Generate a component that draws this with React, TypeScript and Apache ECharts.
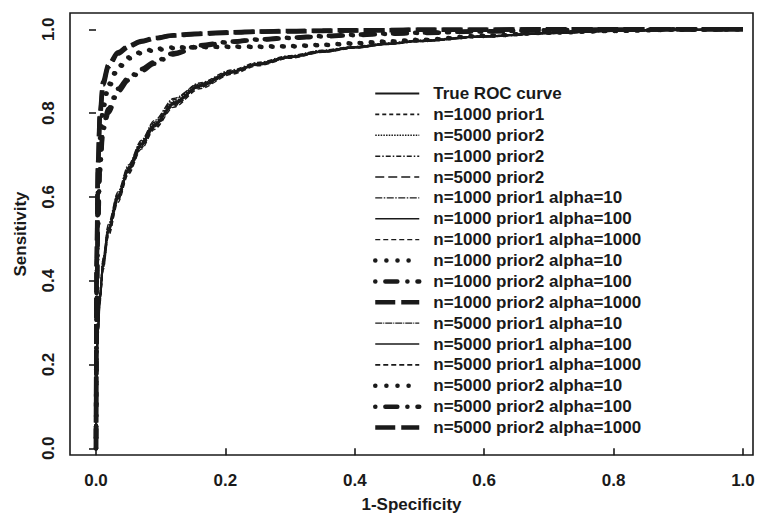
import React, { useEffect, useRef } from "react";
import * as echarts from "echarts";

// False positive rate grid (1-Specificity)
const FPR = [0, 0.001, 0.003, 0.006, 0.011, 0.019, 0.034, 0.05, 0.07, 0.09, 0.12, 0.16, 0.21, 0.25, 0.3, 0.35, 0.4, 0.45, 0.5, 0.6, 0.7, 0.8, 0.9, 1.0];

// Sensitivity values per curve
const TRUE_ROC = [0, 0.20, 0.28, 0.36, 0.44, 0.52, 0.600, 0.665, 0.725, 0.770, 0.822, 0.865, 0.898, 0.917, 0.934, 0.947, 0.957, 0.965, 0.972, 0.983, 0.991, 0.996, 0.999, 1];
const N1000_P1 = [0, 0.19, 0.27, 0.35, 0.43, 0.51, 0.592, 0.658, 0.718, 0.764, 0.817, 0.861, 0.895, 0.915, 0.932, 0.946, 0.956, 0.964, 0.971, 0.982, 0.990, 0.996, 0.999, 1];
const N5000_P2_A = [0, 0.21, 0.29, 0.37, 0.45, 0.53, 0.608, 0.672, 0.732, 0.776, 0.828, 0.869, 0.901, 0.919, 0.936, 0.949, 0.958, 0.966, 0.973, 0.984, 0.991, 0.996, 0.999, 1];
const N1000_P2 = [0, 0.20, 0.285, 0.365, 0.445, 0.525, 0.605, 0.670, 0.730, 0.778, 0.832, 0.872, 0.903, 0.921, 0.937, 0.950, 0.959, 0.967, 0.974, 0.984, 0.992, 0.996, 0.999, 1];
const N5000_P2_B = [0, 0.195, 0.275, 0.355, 0.435, 0.515, 0.595, 0.662, 0.722, 0.768, 0.820, 0.863, 0.896, 0.916, 0.933, 0.946, 0.956, 0.965, 0.972, 0.983, 0.991, 0.996, 0.999, 1];
const N1000_P1_A10 = [0, 0.21, 0.29, 0.37, 0.455, 0.535, 0.612, 0.676, 0.735, 0.782, 0.835, 0.870, 0.900, 0.918, 0.935, 0.948, 0.958, 0.966, 0.973, 0.983, 0.991, 0.996, 0.999, 1];
const N1000_P1_A100 = [0, 0.19, 0.275, 0.355, 0.435, 0.515, 0.596, 0.661, 0.721, 0.767, 0.826, 0.864, 0.897, 0.916, 0.933, 0.947, 0.957, 0.965, 0.972, 0.983, 0.991, 0.996, 0.999, 1];
const N1000_P1_A1000 = [0, 0.185, 0.265, 0.345, 0.425, 0.505, 0.587, 0.654, 0.714, 0.761, 0.814, 0.858, 0.893, 0.913, 0.931, 0.945, 0.955, 0.964, 0.971, 0.982, 0.990, 0.995, 0.999, 1];
const N1000_P2_A10 = [0, 0.38, 0.60, 0.73, 0.81, 0.86, 0.905, 0.930, 0.943, 0.950, 0.955, 0.957, 0.958, 0.958, 0.959, 0.962, 0.966, 0.970, 0.974, 0.984, 0.992, 0.996, 0.999, 1];
const N1000_P2_A100 = [0, 0.33, 0.52, 0.66, 0.76, 0.80, 0.851, 0.878, 0.900, 0.918, 0.940, 0.960, 0.970, 0.975, 0.979, 0.983, 0.986, 0.989, 0.991, 0.995, 0.998, 0.999, 1, 1];
const N1000_P2_A1000 = [0, 0.45, 0.68, 0.80, 0.875, 0.915, 0.945, 0.960, 0.972, 0.979, 0.986, 0.990, 0.993, 0.995, 0.996, 0.997, 0.998, 0.998, 0.999, 0.999, 1, 1, 1, 1];
const N5000_P1_A10 = [0, 0.20, 0.28, 0.36, 0.44, 0.52, 0.602, 0.667, 0.727, 0.772, 0.824, 0.866, 0.899, 0.918, 0.934, 0.947, 0.957, 0.965, 0.972, 0.983, 0.991, 0.996, 0.999, 1];
const N5000_P1_A100 = [0, 0.205, 0.285, 0.365, 0.445, 0.525, 0.604, 0.669, 0.728, 0.773, 0.825, 0.867, 0.899, 0.918, 0.935, 0.948, 0.958, 0.966, 0.973, 0.983, 0.991, 0.996, 0.999, 1];
const N5000_P1_A1000 = [0, 0.195, 0.278, 0.358, 0.438, 0.518, 0.598, 0.663, 0.723, 0.769, 0.821, 0.864, 0.897, 0.916, 0.933, 0.946, 0.956, 0.965, 0.972, 0.983, 0.991, 0.996, 0.999, 1];
const N5000_P2_A10 = [0, 0.40, 0.62, 0.74, 0.82, 0.868, 0.91, 0.933, 0.946, 0.953, 0.957, 0.958, 0.959, 0.959, 0.960, 0.963, 0.967, 0.971, 0.975, 0.985, 0.992, 0.996, 0.999, 1];
const N5000_P2_A100 = [0, 0.35, 0.54, 0.67, 0.77, 0.81, 0.858, 0.884, 0.905, 0.922, 0.943, 0.962, 0.971, 0.976, 0.980, 0.984, 0.987, 0.990, 0.992, 0.995, 0.998, 0.999, 1, 1];
const N5000_P2_A1000 = [0, 0.43, 0.66, 0.79, 0.868, 0.91, 0.942, 0.958, 0.970, 0.978, 0.985, 0.989, 0.992, 0.994, 0.995, 0.996, 0.997, 0.998, 0.999, 0.999, 1, 1, 1, 1];

const LEGEND_NAMES = [
  "True ROC curve",
  "n=1000 prior1",
  "n=5000 prior2",
  "n=1000 prior2",
  "n=5000 prior2 ",
  "n=1000 prior1 alpha=10",
  "n=1000 prior1 alpha=100",
  "n=1000 prior1 alpha=1000",
  "n=1000 prior2 alpha=10",
  "n=1000 prior2 alpha=100",
  "n=1000 prior2 alpha=1000",
  "n=5000 prior1 alpha=10",
  "n=5000 prior1 alpha=100",
  "n=5000 prior1 alpha=1000",
  "n=5000 prior2 alpha=10",
  "n=5000 prior2 alpha=100",
  "n=5000 prior2 alpha=1000",
];

const CURVES = [
  TRUE_ROC, N1000_P1, N5000_P2_A, N1000_P2, N5000_P2_B,
  N1000_P1_A10, N1000_P1_A100, N1000_P1_A1000,
  N1000_P2_A10, N1000_P2_A100, N1000_P2_A1000,
  N5000_P1_A10, N5000_P1_A100, N5000_P1_A1000,
  N5000_P2_A10, N5000_P2_A100, N5000_P2_A1000,
];

const X_TICKS = [0, 0.2, 0.4, 0.6, 0.8, 1.0];
const Y_TICKS = [0, 0.2, 0.4, 0.6, 0.8, 1.0];

const INK = "#1a1a1a";
const DOT: any = { type: [0.1, 11], width: 4.5, cap: "round" };
const DOTDASH: any = { type: [0.1, 10, 12, 10], width: 4.5, cap: "round" };
const LONGDASH: any = { type: [20, 6], width: 4.5, cap: "butt" };

const STYLES: any[] = [
  { type: "solid", width: 2.2 },
  { type: [4, 3], width: 1.6 },
  { type: [1.5, 1.2], width: 1.6 },
  { type: [5, 2, 1.5, 2], width: 1.5 },
  { type: [9, 4], width: 1.5 },
  { type: [7, 1.5, 1.5, 1.5], width: 1.4 },
  { type: "solid", width: 1.4 },
  { type: [5, 3], width: 1.4 },
  DOT, DOTDASH, LONGDASH,
  { type: [7, 1, 1, 1], width: 1.4 },
  { type: "solid", width: 1.6 },
  { type: [5, 3], width: 1.6 },
  DOT, DOTDASH, LONGDASH,
];

export default function App() {
  const ref = useRef<HTMLDivElement>(null);
  useEffect(() => {
    if (!ref.current) return;
    const chart = echarts.init(ref.current, undefined, { renderer: "svg" });
    const font = "'Liberation Sans', Arial, Helvetica, sans-serif";
    const series = CURVES.map((ys, i) => ({
      name: LEGEND_NAMES[i],
      type: "line",
      data: FPR.map((x, j) => [x, ys[j]]),
      symbol: "circle",
      showSymbol: false,
      smooth: 0.3,
      smoothMonotone: "x",
      lineStyle: { color: INK, ...STYLES[i] },
      itemStyle: { color: INK },
      z: i < 8 || (i >= 11 && i <= 13) ? 2 : 3,
    }));
    const legendData = LEGEND_NAMES.map((name, i) => ({
      name,
      lineStyle: {
        color: INK,
        width: STYLES[i].width,
        type: STYLES[i].type,
        cap: STYLES[i].cap || "butt",
      },
    }));
    chart.setOption({
      animation: false,
      backgroundColor: "#ffffff",
      textStyle: { fontFamily: font },
      grid: {
        left: 70,
        right: 4,
        top: 13,
        bottom: 59,
        show: true,
        borderColor: INK,
        borderWidth: 1.6,
        containLabel: false,
        outerBoundsMode: "none",
      },
      legend: {
        orient: "vertical",
        left: 373,
        top: 85,
        padding: 0,
        itemWidth: 44,
        itemHeight: 14,
        itemGap: 3.875,
        selectedMode: false,
        data: legendData,
        itemStyle: { opacity: 0 },
        textStyle: {
          fontFamily: font,
          fontSize: 17,
          fontWeight: "bold",
          color: INK,
          lineHeight: 17,
          padding: [0, 0, 0, 9],
        },
      },
      xAxis: {
        type: "value",
        min: -0.0402,
        max: 1.0155,
        name: "1-Specificity",
        nameLocation: "middle",
        nameGap: 41,
        nameTextStyle: { fontFamily: font, fontSize: 17, fontWeight: "bold", color: INK, verticalAlign: "top" },
        splitLine: { show: false },
        axisLine: { show: false },
        axisTick: { show: true, length: 7, customValues: X_TICKS, lineStyle: { color: INK, width: 1.6 } },
        axisLabel: {
          customValues: X_TICKS,
          margin: 17,
          fontFamily: font,
          fontSize: 17,
          fontWeight: "bold",
          color: INK,
          formatter: (v: number) => v.toFixed(1),
        },
      },
      yAxis: {
        type: "value",
        min: -0.016,
        max: 1.0389,
        name: "Sensitivity",
        nameLocation: "middle",
        nameGap: 41,
        nameRotate: 90,
        nameTextStyle: { fontFamily: font, fontSize: 17, fontWeight: "bold", color: INK },
        splitLine: { show: false },
        axisLine: { show: false },
        axisTick: { show: true, length: 7, customValues: Y_TICKS, lineStyle: { color: INK, width: 1.6 } },
        axisLabel: {
          customValues: Y_TICKS,
          rotate: 90,
          margin: 13,
          fontFamily: font,
          fontSize: 17,
          fontWeight: "bold",
          color: INK,
          formatter: (v: number) => v.toFixed(1),
        },
      },
      series,
    });
    return () => chart.dispose();
  }, []);
  return <div ref={ref} style={{ width: 757, height: 514, position: "absolute", left: 0, top: 0 }} />;
}
